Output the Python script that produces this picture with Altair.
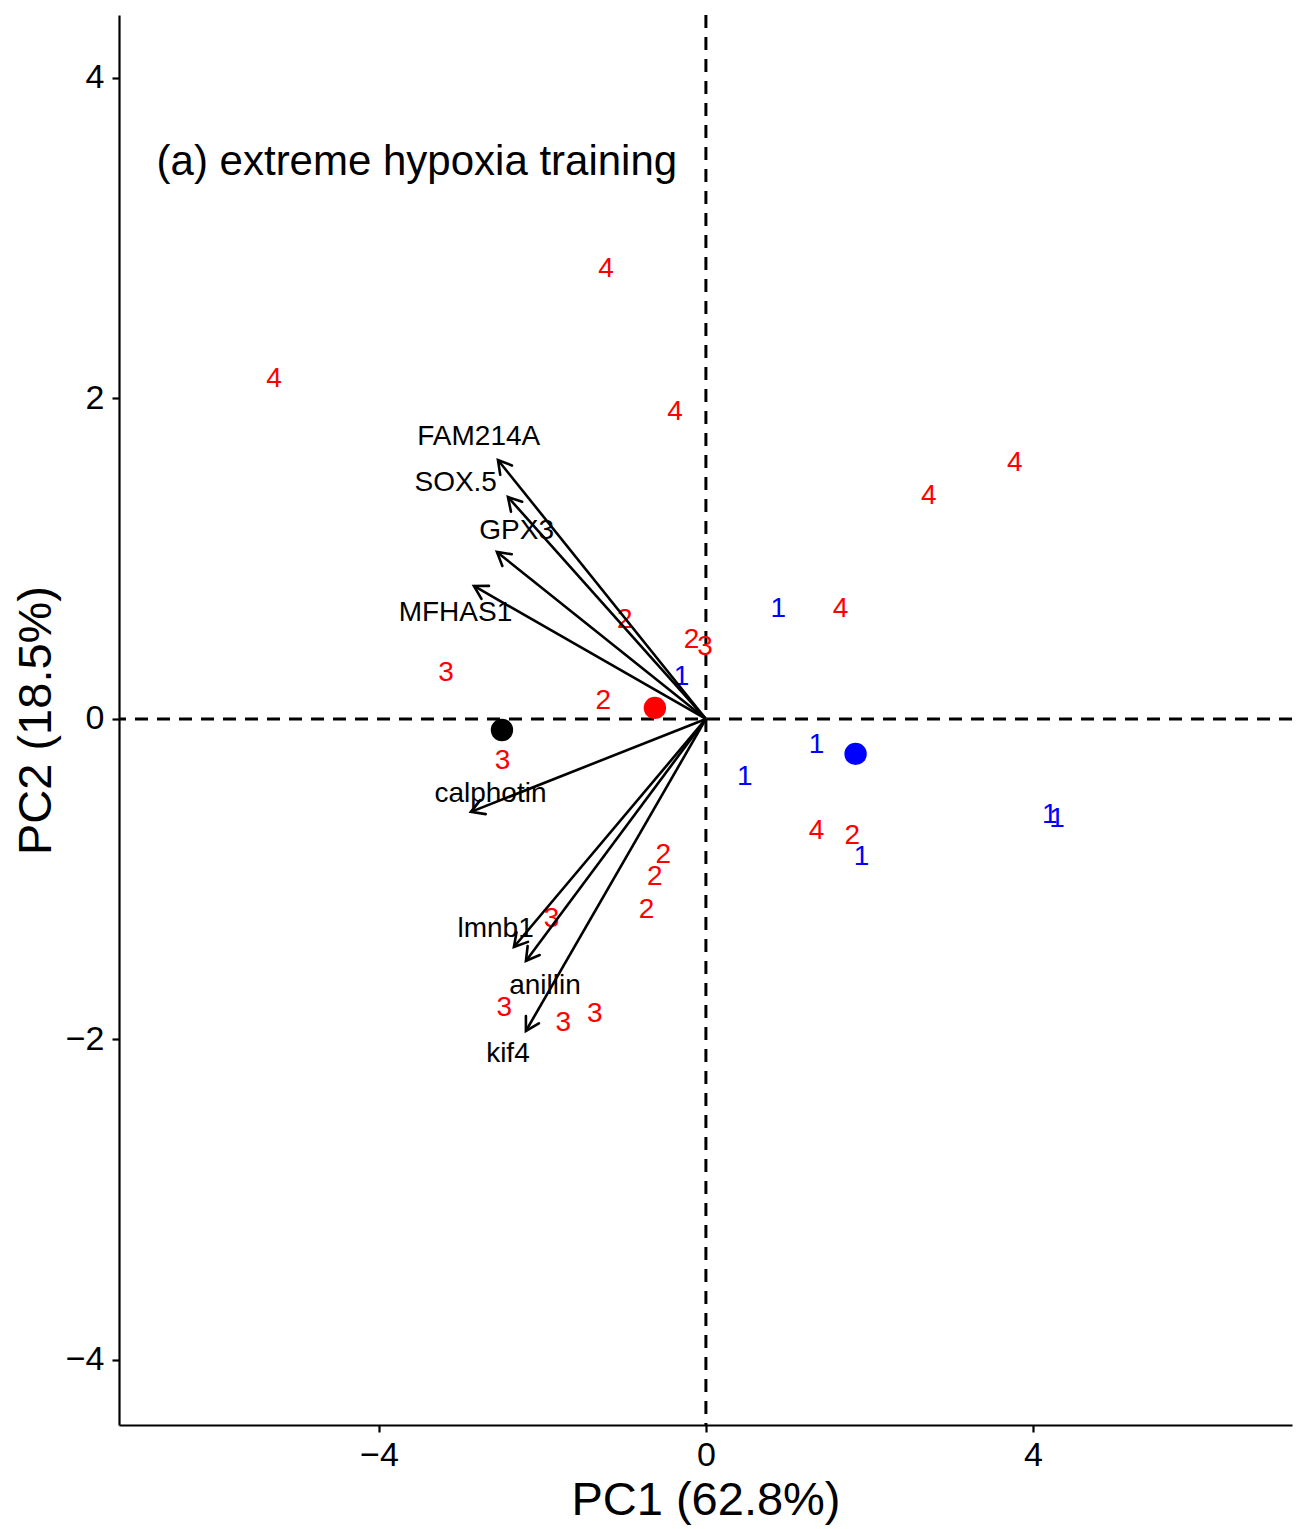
import math
import altair as alt
import pandas as pd

# ---- data ----
# group labels (digits) drawn as text
pt_x = [-1.223, -5.284, -0.379, 3.78, 2.728, 1.648, 1.354,
        -0.991, -0.175, -1.256, 1.79, -0.522, -0.624, -0.725,
        -0.012, -3.18, -2.487, -1.888, -2.467, -1.746, -1.358,
        0.885, -0.297, 1.354, 0.477, 4.208, 4.297, 1.904]
pt_y = [2.82, 2.134, 1.928, 1.61, 1.404, 0.70, -0.688,
        0.628, 0.503, 0.125, -0.72, -0.838, -0.973, -1.181,
        0.462, 0.301, -0.252, -1.234, -1.789, -1.883, -1.826,
        0.70, 0.275, -0.148, -0.349, -0.589, -0.61, -0.849]
pt_group = ["4"] * 7 + ["2"] * 7 + ["3"] * 7 + ["1"] * 7
group_colors = {"1": "#0000FF", "2": "#FF0000", "3": "#FF0000", "4": "#FF0000"}

# centroids
cen_x = [-2.495, -0.624, 1.831]
cen_y = [-0.069, 0.069, -0.218]
cen_color = ["#000000", "#FF0000", "#0000FF"]

# loading arrows
var_names = ["FAM214A", "SOX.5", "GPX3", "MFHAS1", "calphotin", "lmnb1", "anillin", "kif4"]
arrow_x = [-2.544, -2.422, -2.557, -2.838, -2.875, -2.349, -2.202, -2.202]
arrow_y = [1.616, 1.385, 1.042, 0.830, -0.580, -1.423, -1.510, -1.947]
label_x = [-2.779, -3.061, -2.316, -3.064, -2.636, -2.573, -1.969, -2.422]
label_y = [1.772, 1.486, 1.186, 0.675, -0.456, -1.298, -1.654, -2.076]

x_ticks = [-4, 0, 4]
y_ticks = [-4, -2, 0, 2, 4]
x_domain = [-7.18, 7.17]
y_domain = [-4.406, 4.393]
panel_title = "(a) extreme hypoxia training"
x_title = "PC1 (62.8%)"
y_title = "PC2 (18.5%)"

# ---- layout ----
W, H = 1173, 1410
FONT = "Liberation Sans"

px_per_x = W / (x_domain[1] - x_domain[0])
px_per_y = H / (y_domain[1] - y_domain[0])

pts = pd.DataFrame({"x": pt_x, "y": pt_y, "g": pt_group,
                    "c": [group_colors[g] for g in pt_group]})
cen = pd.DataFrame({"x": cen_x, "y": cen_y, "c": cen_color})
arr = pd.DataFrame({
    "name": var_names, "x0": 0.0, "y0": 0.0, "x": arrow_x, "y": arrow_y,
    "lx": label_x, "ly": label_y,
})
arr["ang"] = [
    (math.degrees(math.atan2(-yy * px_per_y, xx * px_per_x)) + 360) % 360
    for xx, yy in zip(arrow_x, arrow_y)
]
zero = pd.DataFrame({"v": [0.0]})
ttl = pd.DataFrame({"x": [-6.72], "y": [3.395], "t": [panel_title]})

xscale = alt.Scale(domain=x_domain, nice=False, zero=False)
yscale = alt.Scale(domain=y_domain, nice=False, zero=False)

x_axis = alt.Axis(
    values=x_ticks, grid=False, domainColor="black", domainWidth=2.2,
    tickColor="black", tickWidth=2.2, tickSize=7,
    labelFont=FONT, labelFontSize=34, labelColor="black", labelPadding=6,
    labelFlush=False, labelOverlap=False,
    title=x_title, titleFont=FONT, titleFontSize=47, titleFontWeight="normal",
    titleColor="black", titleX=W / 2, titleY=89, titleBaseline="alphabetic",
    titleAlign="center",
)
y_axis = alt.Axis(
    values=y_ticks, grid=False, domainColor="black", domainWidth=2.2,
    tickColor="black", tickWidth=2.2, tickSize=7,
    labelFont=FONT, labelFontSize=34, labelColor="black", labelPadding=8,
    labelFlush=False, labelOverlap=False,
    title=y_title, titleFont=FONT, titleFontSize=47, titleFontWeight="normal",
    titleColor="black", titleX=-69, titleY=705, titleAngle=270,
    titleBaseline="alphabetic", titleAlign="center",
)

X = lambda f: alt.X(f, type="quantitative", scale=xscale, axis=x_axis)
Y = lambda f: alt.Y(f, type="quantitative", scale=yscale, axis=y_axis)

vline = alt.Chart(zero).mark_rule(color="black", strokeWidth=3, strokeDash=[13, 9]).encode(x=X("v"))
hline = alt.Chart(zero).mark_rule(color="black", strokeWidth=3, strokeDash=[13, 9]).encode(y=Y("v"))

digits = alt.Chart(pts).mark_text(font=FONT, fontSize=28, align="center", baseline="middle", dy=2).encode(
    x=X("x"), y=Y("y"), text="g:N", color=alt.Color("c:N", scale=None)
)

cents = alt.Chart(cen).mark_point(shape="circle", filled=True, size=500, opacity=1).encode(
    x=X("x"), y=Y("y"), color=alt.Color("c:N", scale=None)
)

shafts = alt.Chart(arr).mark_rule(color="black", strokeWidth=2.6).encode(
    x=X("x0"), y=Y("y0"), x2="x", y2="y"
)
heads = alt.Chart(arr).mark_point(
    shape="M-1,-0.577L0,0L-1,0.577", filled=False, size=676, color="black",
    strokeWidth=2.6, opacity=1, strokeCap="round", strokeJoin="miter",
).encode(x=X("x"), y=Y("y"), angle=alt.Angle("ang:Q", scale=None))

names = alt.Chart(arr).mark_text(font=FONT, fontSize=28, align="center", baseline="middle", color="black", dy=2).encode(
    x=X("lx"), y=Y("ly"), text="name:N"
)

panel = alt.Chart(ttl).mark_text(font=FONT, fontSize=42, align="left", baseline="alphabetic", color="black").encode(
    x=X("x"), y=Y("y"), text="t:N"
)

chart = alt.layer(vline, hline, digits, cents, shafts, heads, names, panel).properties(
    width=W, height=H,
    padding={"left": 119, "top": 15, "right": 4, "bottom": 104},
    autosize=alt.AutoSizeParams(type="none"),
    background="white",
).configure_view(stroke=None)

chart.save("out.html", embed_options={"renderer": "svg", "actions": False})
